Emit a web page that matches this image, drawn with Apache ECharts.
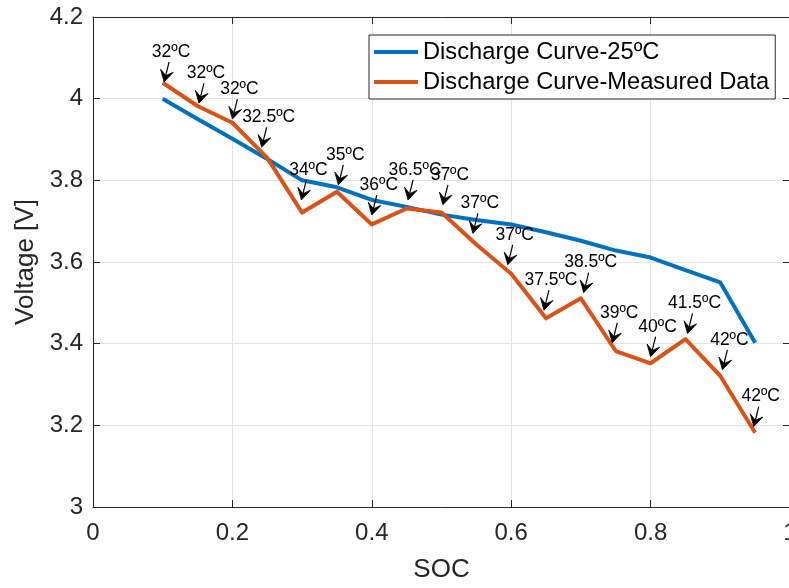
<!DOCTYPE html>
<html>
<head>
<meta charset="utf-8">
<script src="https://cdn.jsdelivr.net/npm/echarts@6/dist/echarts.min.js"></script>
<style>
html,body{margin:0;padding:0;background:#fff;}
#chart{width:789px;height:588px;}
</style>
</head>
<body>
<div id="chart"></div>
<script>
// SOC values (x)
var soc = [0.10,0.15,0.20,0.25,0.30,0.35,0.40,0.45,0.50,0.55,0.60,0.65,0.70,0.75,0.80,0.85,0.90,0.95];
// Discharge curve at 25 ºC
var v25 = [4.000,3.950,3.902,3.852,3.800,3.783,3.752,3.735,3.716,3.703,3.692,3.673,3.652,3.628,3.611,3.580,3.550,3.402];
// Measured discharge data
var vMeas = [4.039,3.982,3.941,3.855,3.721,3.772,3.692,3.731,3.721,3.643,3.571,3.462,3.511,3.382,3.352,3.411,3.321,3.182];
// Temperature annotations: label text, arrow tip (SOC, Voltage)
var tempLabels = ['32ºC','32ºC','32ºC','32.5ºC','34ºC','35ºC','36ºC','36.5ºC','37ºC','37ºC','37ºC','37.5ºC','38.5ºC','39ºC','40ºC','41.5ºC','42ºC','42ºC'];
var tipSoc = [0.102,0.152,0.200,0.242,0.299,0.352,0.400,0.452,0.502,0.545,0.595,0.647,0.704,0.745,0.800,0.853,0.903,0.948];
var tipV = [4.041,3.989,3.950,3.881,3.752,3.789,3.715,3.752,3.740,3.670,3.593,3.482,3.525,3.402,3.368,3.425,3.336,3.197];
// Axis ticks
var xTicks = {min:0, max:1, interval:0.2};
var yTicks = {min:3, max:4.2, interval:0.2};

var FONT = '"Liberation Sans", Arial, Helvetica, sans-serif';
var AX = '#262626';

function pairs(xs, ys){ return xs.map(function(x,i){ return [x, ys[i]]; }); }

var chart = echarts.init(document.getElementById('chart'), null, {renderer:'canvas'});

function renderArrow(params, api){
  var p = api.coord([api.value(0), api.value(1)]);
  var tx = p[0], ty = p[1];
  var tail = [tx + 5, ty - 20];
  var dx = tx - tail[0], dy = ty - tail[1];
  var len = Math.sqrt(dx*dx + dy*dy);
  var ux = dx/len, uy = dy/len;
  var nx = -uy, ny = ux;
  var hl = 11.5, hw = 6.5, notch = 6.5;
  var w1 = [tx - hl*ux + hw*nx, ty - hl*uy + hw*ny];
  var w2 = [tx - hl*ux - hw*nx, ty - hl*uy - hw*ny];
  var nb = [tx - notch*ux, ty - notch*uy];
  return {
    type:'group',
    children:[
      {type:'line', shape:{x1:tail[0], y1:tail[1], x2:nb[0], y2:nb[1]}, style:{stroke:'#000', lineWidth:1.2}},
      {type:'polygon', shape:{points:[[tx,ty], w1, nb, w2]}, style:{fill:'#000', stroke:'#000', lineWidth:0.8, lineJoin:'miter'}},
      {type:'text', x: tx + 7, y: ty - 30, style:{text: tempLabels[params.dataIndex], font:'17.5px ' + FONT, fill:'#000', align:'center', verticalAlign:'middle'}}
    ]
  };
}

var option = {
  backgroundColor:'#fff',
  animation:false,
  textStyle:{fontFamily:FONT},
  grid:{left:93, top:17, width:697, height:490, containLabel:false, outerBoundsMode:'none'},
  legend:{
    orient:'vertical', left:369, top:35,
    backgroundColor:'#fff', borderColor:AX, borderWidth:1,
    padding:[5,6,5,5], itemGap:6, itemWidth:44, itemHeight:4, itemTextGap:5,
    icon:'rect',
    textStyle:{fontSize:23.7, color:'#000', fontFamily:FONT},
    data:['Discharge Curve-25ºC','Discharge Curve-Measured Data']
  },
  xAxis:[{
    type:'value', min:xTicks.min, max:xTicks.max, interval:xTicks.interval,
    name:'SOC', nameLocation:'middle', nameGap:50,
    nameTextStyle:{fontSize:26, color:AX, fontFamily:FONT},
    axisLine:{show:true, onZero:false, lineStyle:{color:AX, width:1}},
    axisTick:{show:true, inside:true, length:7, lineStyle:{color:AX}},
    axisLabel:{fontSize:24, color:AX, margin:14, fontFamily:FONT, showMaxLabel:true, showMinLabel:true},
    splitLine:{show:true, lineStyle:{color:'#e3e3e3', width:1}}
  },{
    type:'value', position:'top', min:xTicks.min, max:xTicks.max, interval:xTicks.interval,
    axisLine:{show:true, onZero:false, lineStyle:{color:AX, width:1}},
    axisTick:{show:true, inside:true, length:7, lineStyle:{color:AX}},
    axisLabel:{show:false}, splitLine:{show:false}
  }],
  yAxis:[{
    type:'value', min:yTicks.min, max:yTicks.max, interval:yTicks.interval,
    name:'Voltage [V]', nameLocation:'middle', nameGap:49, nameRotate:90,
    nameTextStyle:{fontSize:26, color:AX, fontFamily:FONT},
    axisLine:{show:true, onZero:false, lineStyle:{color:AX, width:1}},
    axisTick:{show:true, inside:true, length:7, lineStyle:{color:AX}},
    axisLabel:{fontSize:24, color:AX, margin:10, fontFamily:FONT, showMaxLabel:true, showMinLabel:true},
    splitLine:{show:true, lineStyle:{color:'#e3e3e3', width:1}}
  },{
    type:'value', position:'right', min:yTicks.min, max:yTicks.max, interval:yTicks.interval,
    axisLine:{show:true, onZero:false, lineStyle:{color:AX, width:1}},
    axisTick:{show:true, inside:true, length:7, lineStyle:{color:AX}},
    axisLabel:{show:false}, splitLine:{show:false}
  }],
  series:[
    {name:'Discharge Curve-25ºC', type:'line', data:pairs(soc, v25), showSymbol:false, symbol:'none',
     lineStyle:{color:'#0072BD', width:4, join:'round'}, itemStyle:{color:'#0072BD'}, z:3},
    {name:'Discharge Curve-Measured Data', type:'line', data:pairs(soc, vMeas), showSymbol:false, symbol:'none',
     lineStyle:{color:'#D95319', width:4, join:'round'}, itemStyle:{color:'#D95319'}, z:4},
    {name:'annot', type:'custom', data:pairs(tipSoc, tipV), renderItem:renderArrow, z:6, silent:true}
  ]
};
chart.setOption(option);
</script>
</body>
</html>
